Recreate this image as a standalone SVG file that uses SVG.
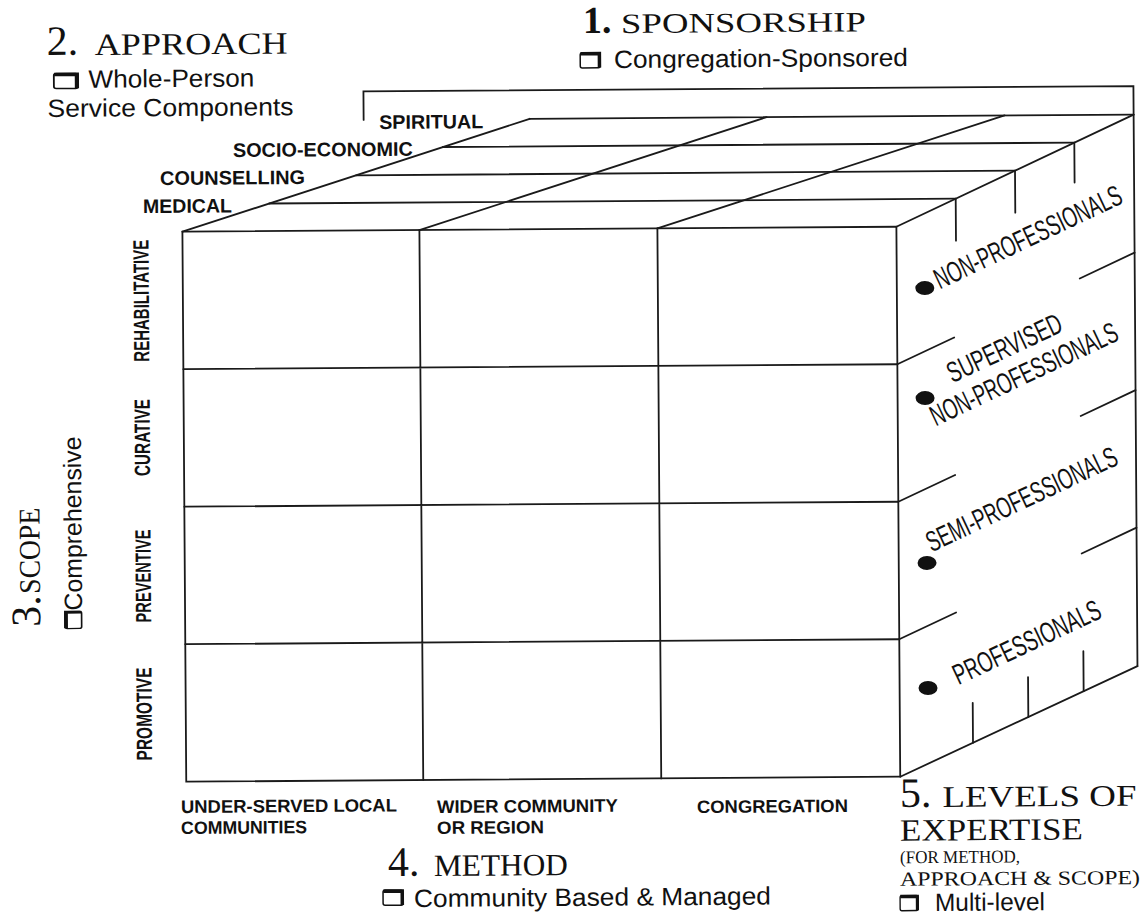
<svg xmlns="http://www.w3.org/2000/svg" width="1146" height="917" viewBox="0 0 1146 917">
<style>
.ln{stroke:#1a1a1a;stroke-width:1.8;fill:none;stroke-linecap:round}
.lb{font-family:"Liberation Sans",Arial,sans-serif;font-weight:bold;font-size:19.5px;fill:#111}
.vl{font-family:"Liberation Sans",Arial,sans-serif;font-weight:bold;font-size:22px;fill:#111}
.bl{font-family:"Liberation Sans",Arial,sans-serif;font-weight:bold;font-size:18px;fill:#111}
.ax{font-family:"Liberation Sans",Arial,sans-serif;font-size:25px;fill:#111}
.rf{font-family:"Liberation Sans",Arial,sans-serif;font-size:29px;fill:#111}
.hd{font-family:"Liberation Serif","Times New Roman",serif;fill:#111}
.dot{fill:#111}
.bx{fill:none;stroke:#111;stroke-width:1.5}
.bxs{fill:none;stroke:#111;stroke-width:3.5;stroke-linecap:square}
</style>
<defs>
<g id="cb"><rect x="0" y="0" width="20" height="15" rx="2" class="bx"/><path d="M2,0.8 H19.2 V13" class="bxs"/></g>
</defs>
<rect width="1146" height="917" fill="#fff"/>
<g transform="rotate(-0.4 573 458)">
<g id="connectors">
  <path class="ln" d="M366,118.5 V90 H1136 V670"/>
  <rect class="ln" x="184" y="229" width="714" height="550"/>
  <path class="ln" d="M421,229 V779 M659,229 V779 M184,366.5 H898 M184,504 H898 M184,641.5 H898"/>
  <path class="ln" d="M271,201.4 H957.5 M358,173.8 H1017 M445,146.1 H1076.5 M532,118.5 H1136"/>
  <path class="ln" d="M184,229 L532,118.5 M421,229 L769,118.5 M659,229 L1007,118.5 M898,229 L1136,118.5"/>
  <path class="ln" d="M957.5,201.4 v42 M1017,173.8 v42 M1076.5,146.1 v40"/>
  <path class="ln" d="M898,779 L1136,670"/>
  <path class="ln" d="M971,745.6 v-40 M1026.5,720.2 v-40 M1082,694.7 v-40"/>
  <path class="ln" d="M898,366.5 L955,340.2 M1081,282 L1136,256.5"/>
  <path class="ln" d="M898,504 L955,477.7 M1081,419.5 L1136,394"/>
  <path class="ln" d="M898,641.5 L955,615.2 M1081,557 L1136,531.5"/>
</g>
<g id="approach-labels">
  <text class="lb" x="381.5" y="127.6" textLength="104" lengthAdjust="spacingAndGlyphs">SPIRITUAL</text>
  <text class="lb" x="235" y="154.6" textLength="180" lengthAdjust="spacingAndGlyphs">SOCIO-ECONOMIC</text>
  <text class="lb" x="162" y="182.1" textLength="145" lengthAdjust="spacingAndGlyphs">COUNSELLING</text>
  <text class="lb" x="144.7" y="210" textLength="89" lengthAdjust="spacingAndGlyphs">MEDICAL</text>
</g>
<g id="scope-labels">
  <text class="vl" transform="translate(150,297.75) rotate(-90)" text-anchor="middle" textLength="122" lengthAdjust="spacingAndGlyphs">REHABILITATIVE</text>
  <text class="vl" transform="translate(150,434.5) rotate(-90)" text-anchor="middle" textLength="77" lengthAdjust="spacingAndGlyphs">CURATIVE</text>
  <text class="vl" transform="translate(150,573) rotate(-90)" text-anchor="middle" textLength="93" lengthAdjust="spacingAndGlyphs">PREVENTIVE</text>
  <text class="vl" transform="translate(150,711) rotate(-90)" text-anchor="middle" textLength="93" lengthAdjust="spacingAndGlyphs">PROMOTIVE</text>
</g>
<g id="method-labels">
  <text class="bl" x="178.5" y="810.2" textLength="216" lengthAdjust="spacingAndGlyphs">UNDER-SERVED LOCAL</text>
  <text class="bl" x="178.5" y="831.3" textLength="126" lengthAdjust="spacingAndGlyphs">COMMUNITIES</text>
  <text class="bl" x="434.5" y="812" textLength="181" lengthAdjust="spacingAndGlyphs">WIDER COMMUNITY</text>
  <text class="bl" x="434.5" y="833" textLength="107" lengthAdjust="spacingAndGlyphs">OR REGION</text>
  <text class="bl" x="694.5" y="813.9" textLength="151" lengthAdjust="spacingAndGlyphs">CONGREGATION</text>
</g>
<g id="expertise-labels">
  <ellipse class="dot" cx="926" cy="290.5" rx="9.5" ry="7"/>
  <ellipse class="dot" cx="925.5" cy="400.5" rx="9.5" ry="7"/>
  <ellipse class="dot" cx="926.3" cy="565.4" rx="9.5" ry="7"/>
  <ellipse class="dot" cx="926.4" cy="690.5" rx="9.5" ry="7"/>
  <text class="rf" transform="translate(941,292) rotate(-24.8)" textLength="204" lengthAdjust="spacingAndGlyphs">NON-PROFESSIONALS</text>
  <text class="rf" font-size="26" transform="translate(953,386) rotate(-24.8)" textLength="124" lengthAdjust="spacingAndGlyphs">SUPERVISED</text>
  <text class="rf" font-size="26" transform="translate(936,429) rotate(-24.8)" textLength="204" lengthAdjust="spacingAndGlyphs">NON-PROFESSIONALS</text>
  <text class="rf" transform="translate(931,555) rotate(-24.8)" textLength="208" lengthAdjust="spacingAndGlyphs">SEMI-PROFESSIONALS</text>
  <text class="rf" transform="translate(957,688) rotate(-24.8)" textLength="160" lengthAdjust="spacingAndGlyphs">PROFESSIONALS</text>
</g>
<g id="sponsorship">
  <text class="hd" x="586" y="33" font-size="38" font-weight="bold">1.</text>
  <text class="hd" x="624" y="33.3" font-size="28" textLength="245" lengthAdjust="spacingAndGlyphs">SPONSORSHIP</text>
  <use href="#cb" transform="translate(583,53)"/>
  <text class="ax" x="616.7" y="68.3" textLength="294" lengthAdjust="spacingAndGlyphs">Congregation-Sponsored</text>
</g>
<g id="approach">
  <text class="hd" x="49.5" y="51.3" font-size="42">2.</text>
  <text class="hd" x="97.5" y="51.6" font-size="31" textLength="193" lengthAdjust="spacingAndGlyphs">APPROACH</text>
  <use href="#cb" transform="translate(56.5,70) scale(1.2,1)"/>
  <text class="ax" x="91" y="84.3" font-size="24" textLength="166" lengthAdjust="spacingAndGlyphs">Whole-Person</text>
  <text class="ax" x="50" y="113.3" font-size="24" textLength="246" lengthAdjust="spacingAndGlyphs">Service Components</text>
</g>
<g id="scope">
  <text class="hd" transform="translate(39,623) rotate(-90)" font-size="42">3.</text>
  <text class="hd" transform="translate(39,590) rotate(-90)" font-size="30" textLength="86" lengthAdjust="spacingAndGlyphs">SCOPE</text>
  <use href="#cb" transform="translate(64,625) rotate(-90) scale(0.85,1.1)"/>
  <text class="ax" transform="translate(81,607) rotate(-90)" font-size="23" textLength="174" lengthAdjust="spacingAndGlyphs">Comprehensive</text>
</g>
<g id="method">
  <text class="hd" x="385" y="874.7" font-size="42">4.</text>
  <text class="hd" x="431" y="875" font-size="31" textLength="134" lengthAdjust="spacingAndGlyphs">METHOD</text>
  <use href="#cb" transform="translate(380,889)"/>
  <text class="ax" x="410.9" y="905.9" textLength="357" lengthAdjust="spacingAndGlyphs">Community Based &amp; Managed</text>
</g>
<g id="expertise">
  <text class="hd" x="897.6" y="809.3" font-size="42">5.</text>
  <text class="hd" x="940" y="809.6" font-size="30" textLength="194" lengthAdjust="spacingAndGlyphs">LEVELS OF</text>
  <text class="hd" x="897.3" y="843" font-size="31" textLength="183" lengthAdjust="spacingAndGlyphs">EXPERTISE</text>
  <text class="hd" x="897.2" y="865.5" font-size="18" textLength="120" lengthAdjust="spacingAndGlyphs">(FOR METHOD,</text>
  <text class="hd" x="897" y="888" font-size="20" textLength="240" lengthAdjust="spacingAndGlyphs">APPROACH &amp; SCOPE)</text>
  <use href="#cb" transform="translate(897,898) scale(0.9,1)"/>
  <text class="ax" x="931.8" y="913.5" textLength="110" lengthAdjust="spacingAndGlyphs">Multi-level</text>
</g>
</g>
</svg>
